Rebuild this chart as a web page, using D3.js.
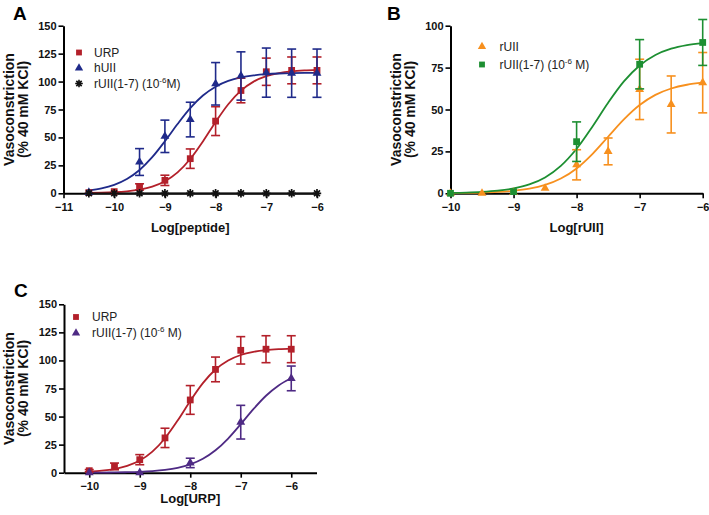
<!DOCTYPE html>
<html>
<head>
<meta charset="utf-8">
<script src="https://cdn.jsdelivr.net/npm/d3@7"></script>
<style>
  html, body { margin: 0; padding: 0; background: #ffffff; }
  svg { display: block; }
  text { font-family: "Liberation Sans", Arial, Helvetica, sans-serif; }
</style>
</head>
<body>
<svg id="chart" width="709" height="515"></svg>
<script>
// ---------------- DATA ----------------
// Panel A: Log[peptide]
const aTicksX = [-11, -10, -9, -8, -7, -6];
const aTicksY = [0, 25, 50, 75, 100, 125, 150];
const aUrpX = [-10.5, -10, -9.5, -9, -8.5, -8, -7.5, -7, -6.5, -6];
const aUrpMean = [0.6, 1.5, 5.7, 11.6, 31, 64.6, 92, 108.8, 110, 110];
const aUrpErr = [0, 0, 2.8, 4.6, 8.7, 12.9, 11, 12.2, 12, 12];
const aHuiiX = [-10.5, -9.5, -9, -8.5, -8, -7.5, -7, -6.5, -6];
const aHuiiMean = [0.8, 28, 51, 66, 98, 105, 108, 107.5, 107.5];
const aHuiiErr = [0, 12, 14.5, 15.5, 19, 21.6, 22, 21.6, 21.6];
const aRuii17X = [-10.5, -10, -9.5, -9, -8.5, -8, -7.5, -7, -6.5, -6];
const aRuii17Mean = [0, 0, 0, 0, 0, 0, 0, 0, 0, 0];
const aCurveX = [-10.5, -10.25, -10, -9.75, -9.5, -9.25, -9, -8.75, -8.5, -8.25, -8, -7.75, -7.5, -7.25, -7, -6.75, -6.5, -6.25, -6];
const aUrpCurve = [0.27, 0.5, 0.94, 1.76, 3.26, 6.0, 10.79, 18.72, 30.68, 46.44, 63.87, 79.74, 91.89, 99.96, 104.86, 107.65, 109.2, 110.03, 110.49];
const aHuiiCurve = [2.53, 4.42, 7.62, 12.84, 20.89, 32.3, 46.59, 62.02, 76.22, 87.49, 95.42, 100.55, 103.68, 105.53, 106.6, 107.21, 107.55, 107.75, 107.86];
const aRuii17Curve = [0, 0, 0, 0, 0, 0, 0, 0, 0, 0, 0, 0, 0, 0, 0, 0, 0, 0, 0];

// Panel B: Log[rUII]
const bTicksX = [-10, -9, -8, -7, -6];
const bTicksY = [0, 25, 50, 75, 100];
const bRuiiX = [-10, -9.5, -9, -8.5, -8, -7.5, -7, -6.5, -6];
const bRuiiMean = [0, 0, 0.5, 3, 17, 25, 62, 53, 66];
const bRuiiErr = [0, 0, 0, 0, 9, 8, 18, 17, 18];
const bRuii17X = [-10, -9, -8, -7, -6];
const bRuii17Mean = [0, 1, 30.8, 77, 90];
const bRuii17Err = [0, 0, 11.8, 14.7, 13.7];
const bCurveX = [-10, -9.75, -9.5, -9.25, -9, -8.75, -8.5, -8.25, -8, -7.75, -7.5, -7.25, -7, -6.75, -6.5, -6.25, -6];
const bRuiiCurve = [0.12, 0.23, 0.42, 0.79, 1.48, 2.73, 4.97, 8.79, 14.84, 23.4, 33.75, 44.09, 52.66, 58.72, 62.53, 64.77, 66.02];
const bRuii17Curve = [0.24, 0.44, 0.83, 1.56, 2.88, 5.29, 9.47, 16.34, 26.55, 39.77, 54.04, 66.76, 76.29, 82.55, 86.31, 88.45, 89.63];

// Panel C: Log[URP]
const cTicksX = [-10, -9, -8, -7, -6];
const cTicksY = [0, 25, 50, 75, 100, 125, 150];
const cUrpX = [-10, -9.5, -9, -8.5, -8, -7.5, -7, -6.5, -6];
const cUrpMean = [1.8, 5.6, 11.6, 31, 64.8, 92, 109, 110, 110];
const cUrpErr = [1, 3, 4.5, 8.6, 12.8, 11, 12.2, 12, 12];
const cRuii17X = [-10, -9, -8, -7, -6];
const cRuii17Mean = [0, 0, 8.7, 45, 84];
const cRuii17Err = [0, 0, 4.2, 15, 11];
const cCurveX = [-10, -9.75, -9.5, -9.25, -9, -8.75, -8.5, -8.25, -8, -7.75, -7.5, -7.25, -7, -6.75, -6.5, -6.25, -6];
const cUrpCurve = [0.94, 1.76, 3.26, 6.0, 10.79, 18.72, 30.68, 46.44, 63.87, 79.74, 91.89, 99.96, 104.86, 107.65, 109.2, 110.03, 110.49];
const cRuii17Curve = [0.08, 0.14, 0.25, 0.45, 0.79, 1.4, 2.46, 4.29, 7.37, 12.36, 19.94, 30.43, 43.22, 56.6, 68.54, 77.76, 84.12];

// ---------------- STYLE ----------------
const RED = "#b3202a", BLUE = "#1f2a8a", BLACK = "#111111",
      ORANGE = "#f7901e", GREEN = "#1d8f32", PURPLE = "#4e2a84";

const svg = d3.select("#chart");

const symSquare = d3.symbol().type(d3.symbolSquare);
const symTri = d3.symbol().type(d3.symbolTriangle);

function asteriskPath(r) {
  const d = r * Math.SQRT1_2;
  return `M${-r},0L${r},0M0,${-r}L0,${r}M${-d},${-d}L${d},${d}M${-d},${d}L${d},${-d}`;
}

function drawPanel(p) {
  const g = svg.append("g");
  const x = d3.scaleLinear().domain(p.xDomain).range(p.xRange);
  const y = d3.scaleLinear().domain(p.yDomain).range(p.yRange);

  // axes
  const yAxis = d3.axisLeft(y).tickValues(p.yTicks).tickSize(5).tickPadding(2).tickSizeOuter(0);
  const xAxis = d3.axisBottom(x).tickValues(p.xTicks).tickSize(5).tickPadding(4.5).tickSizeOuter(0)
                 .tickFormat(d3.format("d"));
  const gy = g.append("g").attr("transform", `translate(${p.xRange[0]},0)`).call(yAxis);
  const gx = g.append("g").attr("transform", `translate(0,${p.yRange[0]})`).call(xAxis);
  [gx, gy].forEach(a => {
    a.select(".domain").attr("stroke", "#000").attr("stroke-width", 2);
    a.selectAll(".tick line").attr("stroke", "#000").attr("stroke-width", 1.6);
    a.selectAll(".tick text").attr("fill", "#111").style("font-size", "11px").style("font-weight", "bold");
  });

  // titles
  g.append("text").attr("x", (p.xRange[0] + p.xRange[1]) / 2).attr("y", p.xTitleY)
    .attr("text-anchor", "middle").style("font-size", "13px").style("font-weight", "bold")
    .attr("fill", "#111").text(p.xTitle);
  const cy = (p.yRange[0] + p.yRange[1]) / 2;
  [["Vasoconstriction", p.xRange[0] - 50], ["(% 40 mM KCl)", p.xRange[0] - 36]].forEach(([t, bx]) => {
    g.append("text").attr("transform", `translate(${bx},${cy}) rotate(-90)`)
      .attr("text-anchor", "middle").style("font-size", "14px").style("font-weight", "bold")
      .attr("fill", "#111").text(t);
  });
  g.append("text").attr("x", p.letterX).attr("y", p.letterY).style("font-size", "19px")
    .style("font-weight", "bold").attr("fill", "#000").text(p.letter);

  const line = d3.line().x(d => x(d[0])).y(d => y(d[1])).curve(d3.curveMonotoneX);

  p.series.forEach(s => {
    // curve
    g.append("path").datum(s.curveX.map((v, i) => [v, s.curveY[i]]))
      .attr("d", line).attr("fill", "none").attr("stroke", s.color).attr("stroke-width", 1.8);
  });
  p.series.forEach(s => {
    // error bars
    if (s.err) {
      s.x.forEach((xv, i) => {
        const e = s.err[i];
        if (!e) return;
        const cx = x(xv), y1 = y(s.mean[i] + e), y0 = y(s.mean[i] - e);
        const eb = g.append("g").attr("stroke", s.color).attr("stroke-width", 1.6);
        eb.append("line").attr("x1", cx).attr("x2", cx).attr("y1", y1).attr("y2", y0);
        eb.append("line").attr("x1", cx - 4.5).attr("x2", cx + 4.5).attr("y1", y1).attr("y2", y1);
        eb.append("line").attr("x1", cx - 4.5).attr("x2", cx + 4.5).attr("y1", y0).attr("y2", y0);
      });
    }
    // markers
    s.x.forEach((xv, i) => {
      const tx = `translate(${x(xv)},${y(s.mean[i])})`;
      if (s.shape === "square") {
        g.append("path").attr("d", symSquare.size(46)()).attr("transform", tx).attr("fill", s.color);
      } else if (s.shape === "triangle") {
        g.append("path").attr("d", symTri.size(34)()).attr("transform", tx).attr("fill", s.color);
      } else {
        g.append("path").attr("d", asteriskPath(4.2)).attr("transform", tx)
          .attr("stroke", s.color).attr("stroke-width", 1.7).attr("fill", "none");
      }
    });
  });

  // legend
  p.series.forEach((s, i) => {
    const ly = p.legend.y[i];
    const tx = `translate(${p.legend.mx},${ly})`;
    if (s.shape === "square") {
      g.append("path").attr("d", symSquare.size(34)()).attr("transform", tx).attr("fill", s.color);
    } else if (s.shape === "triangle") {
      g.append("path").attr("d", symTri.size(30)()).attr("transform", tx).attr("fill", s.color);
    } else {
      g.append("path").attr("d", asteriskPath(3.8)).attr("transform", tx)
        .attr("stroke", s.color).attr("stroke-width", 1.6).attr("fill", "none");
    }
    const t = g.append("text").attr("x", p.legend.tx).attr("y", ly + 4.3)
      .style("font-size", "12px").attr("fill", "#222");
    if (s.sup) {
      t.append("tspan").text(s.label[0]);
      t.append("tspan").attr("dy", -5).style("font-size", "8px").text(s.label[1]);
      t.append("tspan").attr("dy", 5).text(s.label[2]);
    } else {
      t.text(s.label);
    }
  });
}

drawPanel({
  letter: "A", letterX: 13, letterY: 19.5,
  xDomain: [-11, -6], xRange: [63.5, 317], yDomain: [0, 150], yRange: [193.3, 25.7],
  xTicks: aTicksX, yTicks: aTicksY, xTitle: "Log[peptide]", xTitleY: 232,
  legend: { mx: 79, tx: 94, y: [52.5, 68, 83.5] },
  series: [
    { label: "URP", color: RED, shape: "square", x: aUrpX, mean: aUrpMean, err: aUrpErr, curveX: aCurveX, curveY: aUrpCurve },
    { label: "hUII", color: BLUE, shape: "triangle", x: aHuiiX, mean: aHuiiMean, err: aHuiiErr, curveX: aCurveX, curveY: aHuiiCurve },
    { label: ["rUII(1-7) (10", "-6", "M)"], sup: true, color: BLACK, shape: "asterisk", x: aRuii17X, mean: aRuii17Mean, err: null, curveX: aCurveX, curveY: aRuii17Curve }
  ]
});

drawPanel({
  letter: "B", letterX: 387, letterY: 19.5,
  xDomain: [-10, -6], xRange: [450.5, 702.7], yDomain: [0, 100], yRange: [193.3, 25.7],
  xTicks: bTicksX, yTicks: bTicksY, xTitle: "Log[rUII]", xTitleY: 232,
  legend: { mx: 482, tx: 499.5, y: [46.5, 64.5] },
  series: [
    { label: "rUII", color: ORANGE, shape: "triangle", x: bRuiiX, mean: bRuiiMean, err: bRuiiErr, curveX: bCurveX, curveY: bRuiiCurve },
    { label: ["rUII(1-7) (10", "-6", " M)"], sup: true, color: GREEN, shape: "square", x: bRuii17X, mean: bRuii17Mean, err: bRuii17Err, curveX: bCurveX, curveY: bRuii17Curve }
  ]
});

drawPanel({
  letter: "C", letterX: 14, letterY: 297,
  xDomain: [-10.5, -5.5], xRange: [64, 316.5], yDomain: [0, 150], yRange: [472.7, 304.3],
  xTicks: cTicksX, yTicks: cTicksY, xTitle: "Log[URP]", xTitleY: 503,
  legend: { mx: 76, tx: 92, y: [317, 333] },
  series: [
    { label: "URP", color: RED, shape: "square", x: cUrpX, mean: cUrpMean, err: cUrpErr, curveX: cCurveX, curveY: cUrpCurve },
    { label: ["rUII(1-7) (10", "-6", " M)"], sup: true, color: PURPLE, shape: "triangle", x: cRuii17X, mean: cRuii17Mean, err: cRuii17Err, curveX: cCurveX, curveY: cRuii17Curve }
  ]
});
</script>
</body>
</html>
